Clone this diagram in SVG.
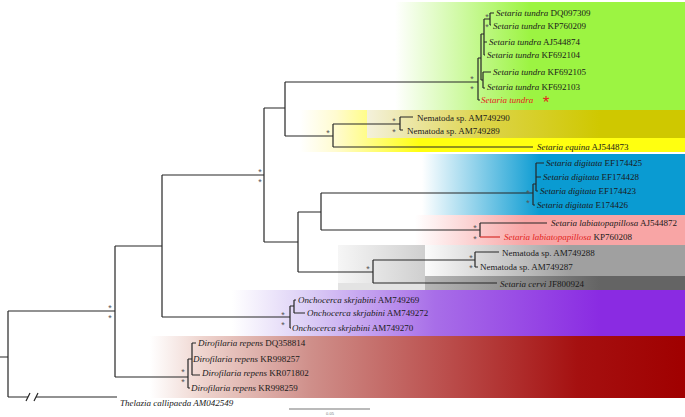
<svg xmlns="http://www.w3.org/2000/svg" width="685" height="417" viewBox="0 0 685 417">
<style>
.t{font-family:"Liberation Serif","Times New Roman",serif;font-size:9px;fill:#1a1a1a}
.i{font-style:italic}
.r{fill:#e3241c}
.a{font-family:"Liberation Sans",Arial,sans-serif;font-size:9px;fill:#555;text-anchor:middle}
.e{fill:none;stroke:#262626;stroke-width:1.2}
</style>
<defs>
<linearGradient id="gGreen" gradientUnits="userSpaceOnUse" x1="395" y1="0" x2="530" y2="0"><stop offset="0" stop-color="#ffffff"/><stop offset="1" stop-color="#9cf442"/></linearGradient>
<linearGradient id="gYel" gradientUnits="userSpaceOnUse" x1="300" y1="0" x2="420" y2="0"><stop offset="0" stop-color="#ffffff"/><stop offset="0.3" stop-color="#fffbd0"/><stop offset="1" stop-color="#ffff10"/></linearGradient>
<linearGradient id="gOli" gradientUnits="userSpaceOnUse" x1="367" y1="0" x2="600" y2="0"><stop offset="0" stop-color="#f4f1dc"/><stop offset="0.5" stop-color="#ddd44a"/><stop offset="1" stop-color="#cfc800"/></linearGradient>
<linearGradient id="gBlue" gradientUnits="userSpaceOnUse" x1="422" y1="0" x2="540" y2="0"><stop offset="0" stop-color="#ffffff"/><stop offset="1" stop-color="#0a9bd2"/></linearGradient>
<linearGradient id="gPink" gradientUnits="userSpaceOnUse" x1="415" y1="0" x2="525" y2="0"><stop offset="0" stop-color="#ffffff"/><stop offset="1" stop-color="#f8a5a5"/></linearGradient>
<linearGradient id="gGrayL" gradientUnits="userSpaceOnUse" x1="338" y1="0" x2="425" y2="0"><stop offset="0" stop-color="#f6f6f6"/><stop offset="1" stop-color="#cfcfcf"/></linearGradient>
<linearGradient id="gGrayM" gradientUnits="userSpaceOnUse" x1="425" y1="0" x2="570" y2="0"><stop offset="0" stop-color="#fbfbfb"/><stop offset="1" stop-color="#a0a0a0"/></linearGradient>
<linearGradient id="gGrayD" gradientUnits="userSpaceOnUse" x1="338" y1="0" x2="600" y2="0"><stop offset="0" stop-color="#e0e0e0"/><stop offset="1" stop-color="#646464"/></linearGradient>
<linearGradient id="gPur" gradientUnits="userSpaceOnUse" x1="232" y1="0" x2="600" y2="0"><stop offset="0" stop-color="#ffffff"/><stop offset="0.2" stop-color="#ddd0f6"/><stop offset="0.55" stop-color="#a86ee8"/><stop offset="1" stop-color="#8a2be2"/></linearGradient>
<linearGradient id="gRed" gradientUnits="userSpaceOnUse" x1="150" y1="0" x2="685" y2="0"><stop offset="0" stop-color="#ffffff"/><stop offset="0.1" stop-color="#eed3cd"/><stop offset="0.3" stop-color="#cf8f8a"/><stop offset="0.55" stop-color="#bb4f4d"/><stop offset="0.8" stop-color="#a51010"/><stop offset="1" stop-color="#a00000"/></linearGradient>
</defs>
<rect width="685" height="417" fill="#ffffff"/>
<g id="bands">
<rect x="395" y="2" width="290" height="108" fill="url(#gGreen)"/>
<rect x="300" y="110" width="385" height="42" fill="url(#gYel)"/>
<rect x="367" y="110" width="318" height="28" fill="url(#gOli)"/>
<rect x="422" y="154" width="263" height="61" fill="url(#gBlue)"/>
<rect x="415" y="215" width="270" height="30" fill="url(#gPink)"/>
<rect x="338" y="245" width="87" height="38" fill="url(#gGrayL)"/>
<rect x="425" y="245" width="260" height="31" fill="url(#gGrayM)"/>
<rect x="425" y="276" width="260" height="14" fill="url(#gGrayD)"/>
<rect x="338" y="283" width="87" height="7" fill="#d0d0d0" opacity="0.6"/>
<rect x="232" y="290" width="453" height="46" fill="url(#gPur)"/>
<rect x="150" y="336" width="535" height="62" fill="url(#gRed)"/>
</g>
<g id="connectors" class="e">
<path d="M0 357H8M8 311V397M8 311H115M8 397H28M36 397H117"/>
<path d="M26 401L30 393M34 401L38 393"/>
<path d="M115 246V377M115 246H162M115 377H188"/>
<path d="M162 175V317M162 175H264M162 317H290"/>
<path d="M264 108V242M264 108H285M264 242H298"/>
<path d="M285 82V136M285 82H478M285 136H333"/>
<path d="M333 124V147M333 124H400M333 147H533"/>
<path d="M400 117V130M400 117H413M400 130H403"/>
<path d="M478 58V100M478 100H480M478 58H481M481 34V80M481 80H483M483 72V88M483 72H491M483 88H485M481 34H484M484 19V55M484 42H487M484 55H485M484 19H490M490 13V25M490 13H494M490 25H491"/>
<path d="M298 212V272M298 212H321M298 272H373"/>
<path d="M321 193V230M321 193H533M321 230H480"/>
<path d="M533 184V205M533 205H535M533 184H536M536 163V191M536 163H544M536 177H541M536 191H538"/>
<path d="M480 223V237M480 223H547"/>
<path d="M480 237H500" stroke="#d8302a"/>
<path d="M373 260V283M373 260H475M373 283H497"/>
<path d="M475 252V267M475 252H499M475 267H478"/>
<path d="M290 306V328M290 328H291M290 306H294M294 300V313M294 300H296M294 313H305"/>
<path d="M188 359V388M188 388H190M188 359H192M192 343V375M192 343H196M192 375H200"/>
<path d="M289 409H370" stroke="#777" stroke-width="1.2"/>
</g>
<g id="support">
<text class="a" x="472" y="81.5">*</text><text class="a" x="472" y="92">*</text>
<text class="a" x="487" y="19.5">*</text><text class="a" x="487" y="30">*</text>
<text class="a" x="394" y="124">*</text><text class="a" x="394" y="134.5">*</text>
<text class="a" x="328" y="136">*</text>
<text class="a" x="260" y="174.5">*</text><text class="a" x="260" y="185">*</text>
<text class="a" x="110" y="310.5">*</text><text class="a" x="110" y="321">*</text>
<text class="a" x="283" y="317.5">*</text><text class="a" x="283" y="328">*</text>
<text class="a" x="183" y="374.5">*</text><text class="a" x="183" y="385">*</text>
<text class="a" x="528" y="195.5">*</text><text class="a" x="528" y="206">*</text>
<text class="a" x="475" y="231">*</text><text class="a" x="475" y="241.5">*</text>
<text class="a" x="471" y="260.5">*</text><text class="a" x="471" y="271">*</text>
<text class="a" x="368" y="272">*</text>
</g>
<g id="leaves">
<text class="t" x="496" y="15.5"><tspan class="i">Setaria tundra</tspan> DQ097309</text>
<text class="t" x="493" y="28.5"><tspan class="i">Setaria tundra</tspan> KP760209</text>
<text class="t" x="489" y="45"><tspan class="i">Setaria tundra</tspan> AJ544874</text>
<text class="t" x="487" y="58"><tspan class="i">Setaria tundra</tspan> KF692104</text>
<text class="t" x="493" y="75"><tspan class="i">Setaria tundra</tspan> KF692105</text>
<text class="t" x="487" y="89.5"><tspan class="i">Setaria tundra</tspan> KF692103</text>
<text class="t r i" x="481" y="103">Setaria tundra</text>
<text x="546" y="108" style="font-family:'Liberation Sans',Arial,sans-serif;font-size:17px;fill:#e3241c;text-anchor:middle">*</text>
<text class="t" x="417" y="120.5">Nematoda sp. AM749290</text>
<text class="t" x="407" y="133.5">Nematoda sp. AM749289</text>
<text class="t" x="537" y="150"><tspan class="i">Setaria equina</tspan> AJ544873</text>
<text class="t" x="546" y="166"><tspan class="i">Setaria digitata</tspan> EF174425</text>
<text class="t" x="543" y="180"><tspan class="i">Setaria digitata</tspan> EF174428</text>
<text class="t" x="540" y="194"><tspan class="i">Setaria digitata</tspan> EF174423</text>
<text class="t" x="537" y="208"><tspan class="i">Setaria digitata</tspan> E174426</text>
<text class="t" x="551" y="226"><tspan class="i">Setaria labiatopapillosa</tspan> AJ544872</text>
<text class="t" x="504" y="240"><tspan class="i r">Setaria labiatopapillosa</tspan> KP760208</text>
<text class="t" x="502" y="255.5">Nematoda sp. AM749288</text>
<text class="t" x="480" y="270">Nematoda sp. AM749287</text>
<text class="t" x="500" y="287"><tspan class="i">Setaria cervi</tspan> JF800924</text>
<text class="t" x="298" y="303"><tspan class="i">Onchocerca skrjabini</tspan> AM749269</text>
<text class="t" x="307" y="316"><tspan class="i">Onchocerca skrjabini</tspan> AM749272</text>
<text class="t" x="292" y="331"><tspan class="i">Onchocerca skrjabini</tspan> AM749270</text>
<text class="t" x="198" y="346"><tspan class="i">Dirofilaria repens</tspan> DQ358814</text>
<text class="t" x="193" y="362"><tspan class="i">Dirofilaria repens</tspan> KR998257</text>
<text class="t" x="202" y="376"><tspan class="i">Dirofilaria repens</tspan> KR071802</text>
<text class="t" x="191" y="391"><tspan class="i">Dirofilaria repens</tspan> KR998259</text>
<text class="t i" x="120" y="406">Thelazia callipaeda AM042549</text>
<text x="330" y="415" style="font-family:'Liberation Sans',Arial,sans-serif;font-size:4px;fill:#777;text-anchor:middle">0.05</text>
</g>
</svg>
